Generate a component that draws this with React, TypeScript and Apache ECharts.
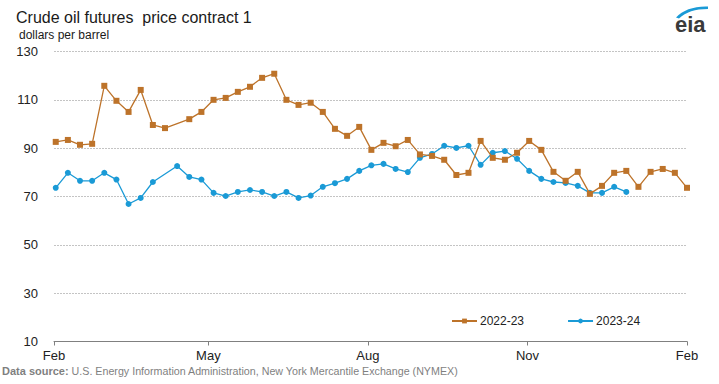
import React, { useEffect, useRef } from "react";
import * as echarts from "echarts";

// ---- data ----
const monthLabels = ["Feb", "May", "Aug", "Nov", "Feb"];
const monthDays = [0, 89, 181, 273, 365]; // day offsets from Feb 1
const totalDays = 365;
const firstDay = 1; // first weekly observation (day offset)
const weekStep = 7;

const yTicks = { min: 10, max: 130, interval: 20 };

const seriesNames = ["2022-23", "2023-24"];

const values2022 = [
  92.6, 93.4, 91.4, 91.8, 115.8, 109.6, 105.0, 114.1, 99.6, 98.3, null, 102.0,
  105.0, 110.0, 110.8, 113.3, 115.4, 119.1, 120.8, 110.0, 107.9, 108.8, 105.0,
  98.0, 95.1, 98.8, 89.3, 92.2, 90.8, 93.4, 87.4, 86.8, 85.2, 78.9, 79.8, 93.0,
  86.0, 85.2, 88.1, 93.0, 89.3, 80.2, 76.5, 80.2, 71.1, 74.4, 79.8, 80.6, 74.0,
  80.2, 81.4, 79.8, 73.6,
];

const values2023 = [
  73.6, 79.8, 76.5, 76.5, 79.8, 77.0, 66.9, 69.4, 76.0, null, 82.6, 78.1, 77.0,
  71.5, 70.2, 71.9, 72.7, 71.9, 70.2, 71.9, 69.4, 70.4, 74.0, 75.5, 77.3, 80.6,
  82.9, 83.5, 81.4, 80.1, 86.0, 87.6, 91.0, 90.1, 91.0, 83.1, 88.1, 88.8, 85.6,
  80.6, 77.3, 76.0, 75.6, 74.4, 71.5, 71.5, 74.0, 71.9,
];

const titleText = "Crude oil futures  price contract 1";
const unitText = "dollars per barrel";
const sourceLabel = "Data source:";
const sourceText =
  " U.S. Energy Information Administration, New York Mercantile Exchange (NYMEX)";

const ORANGE = "#bd732a";
const BLUE = "#1a9ad6";
const FONT = "'Liberation Sans', Arial, sans-serif";

const toPairs = (vals: (number | null)[]) =>
  vals
    .map((v, k) => (v == null ? null : [firstDay + k * weekStep, v]))
    .filter((p) => p !== null) as number[][];

export default function App() {
  const ref = useRef<HTMLDivElement>(null);

  useEffect(() => {
    if (!ref.current) return;
    try {
      echarts.graphic.registerShape(
        "eiaArc",
        echarts.graphic.extendPath(
          "M676 17.5 C683 10 694 6 708 6.5 L708 9 C695 9 686 12 679 18.5 Z",
          {}
        )
      );
    } catch (e) {}
    const chart = echarts.init(ref.current, undefined, { renderer: "svg" });
    const days = Array.from({ length: totalDays + 1 }, (_, i) => String(i));
    const isMonth = (idx: number) => monthDays.includes(idx);

    chart.setOption({
      animation: false,
      textStyle: { fontFamily: FONT },
      grid: { left: 54, right: 32, top: 51.5, bottom: 42.5, containLabel: false },
      legend: {
        data: [seriesNames[0], seriesNames[1]],
        left: 451,
        top: 315,
        padding: 0,
        itemWidth: 25,
        itemHeight: 6,
        itemGap: 43,
        textStyle: { fontSize: 12, color: "#222", fontFamily: FONT, padding: [0, 0, 0, -2] },
      },
      xAxis: {
        type: "category",
        boundaryGap: false,
        data: days,
        axisLine: { lineStyle: { color: "#808080", width: 1 } },
        axisTick: {
          interval: (idx: number) => isMonth(idx),
          length: 4,
          lineStyle: { color: "#808080" },
        },
        axisLabel: {
          interval: (idx: number) => isMonth(idx),
          formatter: (_v: string, idx: number) => monthLabels[monthDays.indexOf(idx)] ?? "",
          color: "#222",
          fontSize: 13,
          margin: 7,
          fontFamily: FONT,
        },
        splitLine: { show: false },
      },
      yAxis: {
        type: "value",
        min: yTicks.min,
        max: yTicks.max,
        interval: yTicks.interval,
        axisLine: { show: false },
        axisTick: { show: false },
        axisLabel: { color: "#222", fontSize: 13, margin: 16, fontFamily: FONT },
        splitLine: { lineStyle: { color: "#c4c4c4", type: [2, 1], width: 1 } },
      },
      series: [
        {
          name: seriesNames[1],
          type: "line",
          data: toPairs(values2023),
          symbol: "circle",
          symbolSize: 6,
          showSymbol: true,
          showAllSymbol: true,
          connectNulls: true,
          lineStyle: { color: BLUE, width: 1.3 },
          itemStyle: { color: BLUE },
          z: 2,
        },
        {
          name: seriesNames[0],
          type: "line",
          data: toPairs(values2022),
          symbol: "rect",
          symbolSize: 6,
          showSymbol: true,
          showAllSymbol: true,
          connectNulls: true,
          lineStyle: { color: ORANGE, width: 1.3 },
          itemStyle: { color: ORANGE },
          z: 3,
        },
      ],
      graphic: [
        {
          type: "text",
          left: 16,
          top: 9,
          style: { text: titleText, fontSize: 16, fill: "#1a1a1a", fontFamily: FONT },
        },
        {
          type: "text",
          left: 19,
          top: 29,
          style: { text: unitText, fontSize: 12, fill: "#1a1a1a", fontFamily: FONT },
        },
        {
          type: "text",
          left: 2,
          top: 365,
          style: {
            text: "{b|" + sourceLabel + "}{n|" + sourceText + "}",
            fill: "#7f7f7f",
            fontFamily: FONT,
            rich: {
              b: { fontWeight: "bold", fontSize: 11, fill: "#7f7f7f", fontFamily: FONT },
              n: { fontSize: 10.7, fill: "#7f7f7f", fontFamily: FONT },
            },
          },
        },
        {
          type: "text",
          left: 675,
          top: 13,
          style: { text: "eia", fontSize: 22, fontWeight: "bold", fill: "#3a3a3a", fontFamily: FONT },
        },
        {
          type: "eiaArc",
          x: 0,
          y: 0,
          style: { fill: "#1a9ad6" },
        },
      ],
    });
    return () => chart.dispose();
  }, []);

  return (
    <div
      ref={ref}
      style={{ position: "fixed", left: 0, top: 0, width: 719, height: 384, background: "#fff" }}
    />
  );
}
